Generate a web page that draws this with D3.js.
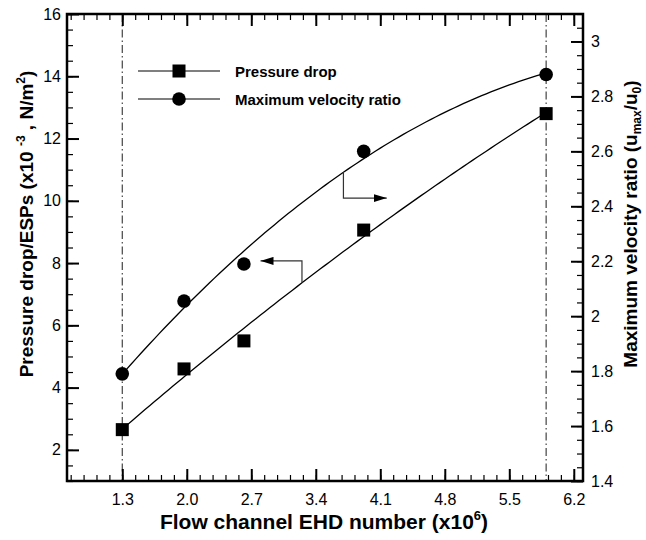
<!DOCTYPE html>
<html>
<head>
<meta charset="utf-8">
<script src="https://cdn.jsdelivr.net/npm/d3@7"></script>
<style>
  body { margin: 0; background: #fff; }
  text { font-family: "Liberation Sans", Arial, sans-serif; fill: #000; }
</style>
</head>
<body>
<div id="chart"></div>
<script>
// EHD number (x10^6) for each case
const ehdNumber = [1.3, 1.97, 2.62, 3.92, 5.9];
// pressure drop / ESPs (x10^-3 N/m2) -> left axis
const pressureDrop = [2.65, 4.6, 5.5, 9.06, 12.8];
// maximum velocity ratio -> right axis
const velocityRatio = [1.79, 2.055, 2.19, 2.6, 2.88];

const xTicks = [1.3, 2.0, 2.7, 3.4, 4.1, 4.8, 5.5, 6.2];
const leftTicks = [2, 4, 6, 8, 10, 12, 14, 16];
const rightTicks = [1.4, 1.6, 1.8, 2, 2.2, 2.4, 2.6, 2.8, 3];
const refLines = [1.3, 5.9];

const W = 646, H = 540;
const pLeft = 67, pRight = 583, pTop = 14, pBottom = 481;

const x = d3.scaleLinear().domain([0.7, 6.3]).range([pLeft, pRight]);
const yL = d3.scaleLinear().domain([1, 16]).range([pBottom, pTop]);
const yR = d3.scaleLinear().domain([1.4, 3.1]).range([pBottom, pTop]);

// least squares 2nd order fit, same as the trend curves in the figure
function quadFit(xs, ys) {
  let s = [0, 0, 0, 0, 0], t = [0, 0, 0];
  xs.forEach((xv, i) => {
    for (let k = 0; k < 5; k++) s[k] += Math.pow(xv, k);
    for (let k = 0; k < 3; k++) t[k] += ys[i] * Math.pow(xv, k);
  });
  const m = [[s[0], s[1], s[2]], [s[1], s[2], s[3]], [s[2], s[3], s[4]]];
  const det3 = a => a[0][0]*(a[1][1]*a[2][2]-a[1][2]*a[2][1])
    - a[0][1]*(a[1][0]*a[2][2]-a[1][2]*a[2][0])
    + a[0][2]*(a[1][0]*a[2][1]-a[1][1]*a[2][0]);
  const D = det3(m);
  const coef = [0, 1, 2].map(c => {
    const mc = m.map((row, r) => row.map((v, j) => j == c ? t[r] : v));
    return det3(mc) / D;
  });
  return xv => coef[0] + coef[1]*xv + coef[2]*xv*xv;
}

const fitP = quadFit(ehdNumber, pressureDrop);
const fitV = quadFit(ehdNumber, velocityRatio);

const svg = d3.select("#chart").append("svg")
  .attr("width", W).attr("height", H);

svg.append("rect").attr("width", W).attr("height", H).attr("fill", "#fff");

// dash-dot reference lines
svg.selectAll(".ref")
  .data(refLines)
  .join("line")
  .attr("class", "ref")
  .attr("x1", d => x(d)).attr("x2", d => x(d))
  .attr("y1", pTop).attr("y2", pBottom)
  .attr("stroke", "#444")
  .attr("stroke-width", 1.2)
  .attr("stroke-dasharray", "8,3,1.5,3");

// minor ticks
const xMinor = d3.range(-4, 37).map(j => +(1.3 + 0.14 * j).toFixed(2))
  .filter(v => v >= 0.7 && v <= 6.3);
const lMinor = d3.range(1, 16.01, 0.5);
const rMinor = d3.range(28, 63).map(j => +(j * 0.05).toFixed(2));

function addAxis(axis, tx, ty, cls) {
  const g = svg.append("g")
    .attr("class", cls)
    .attr("transform", `translate(${tx},${ty})`)
    .call(axis);
  g.select(".domain").remove();
  return g;
}

const majorW = 2, minorW = 1.2;

addAxis(d3.axisBottom(x).tickValues(xMinor).tickSize(-6).tickFormat(""), 0, pBottom, "minor");
addAxis(d3.axisTop(x).tickValues(xMinor).tickSize(-6).tickFormat(""), 0, pTop, "minor");
addAxis(d3.axisLeft(yL).tickValues(lMinor).tickSize(-6).tickFormat(""), pLeft, 0, "minor");
addAxis(d3.axisRight(yR).tickValues(rMinor).tickSize(-6).tickFormat(""), pRight, 0, "minor");
svg.selectAll(".minor line").attr("stroke-width", minorW);

addAxis(d3.axisBottom(x).tickValues(xTicks).tickSize(-12).tickPadding(13)
  .tickFormat(d3.format(".1f")), 0, pBottom, "major");
addAxis(d3.axisTop(x).tickValues(xTicks).tickSize(-12).tickFormat(""), 0, pTop, "major");
addAxis(d3.axisLeft(yL).tickValues(leftTicks).tickSize(-12).tickPadding(6), pLeft, 0, "major");
addAxis(d3.axisRight(yR).tickValues(rightTicks).tickSize(-12).tickPadding(8)
  .tickFormat(d => String(+d.toFixed(1))), pRight, 0, "major");
svg.selectAll(".major line").attr("stroke-width", majorW);
svg.selectAll(".major text, .minor text")
  .attr("font-size", 16)
  .attr("font-family", "'Liberation Sans', Arial, sans-serif")
  .attr("fill", "#000");

// frame
svg.append("rect")
  .attr("x", pLeft).attr("y", pTop)
  .attr("width", pRight - pLeft).attr("height", pBottom - pTop)
  .attr("fill", "none").attr("stroke", "#000").attr("stroke-width", 2.5);

// fitted curves
const xs = d3.range(ehdNumber[0], ehdNumber[ehdNumber.length - 1] + 0.001, 0.05);
const lineP = d3.line().x(d => x(d)).y(d => yL(fitP(d)));
const lineV = d3.line().x(d => x(d)).y(d => yR(fitV(d)));

svg.append("path").attr("d", lineP(xs))
  .attr("fill", "none").attr("stroke", "#000").attr("stroke-width", 1.3);
svg.append("path").attr("d", lineV(xs))
  .attr("fill", "none").attr("stroke", "#000").attr("stroke-width", 1.3);

// arrows pointing to the matching axis
const defs = svg.append("defs");
defs.append("marker")
  .attr("id", "head")
  .attr("viewBox", "0 0 13 8")
  .attr("refX", 13).attr("refY", 4)
  .attr("markerWidth", 13).attr("markerHeight", 8)
  .attr("markerUnits", "userSpaceOnUse")
  .attr("orient", "auto")
  .append("path").attr("d", "M0,0L13,4L0,8Z").attr("fill", "#000");

const arrowP = { x: 3.25, yTurn: 8.07, tip: 2.8 };
const arrowV = { x: 3.7, yTurn: 2.43, tip: 4.17 };

svg.append("path")
  .attr("d", `M${x(arrowP.x)},${yL(fitP(arrowP.x))}V${yL(arrowP.yTurn)}H${x(arrowP.tip)}`)
  .attr("fill", "none").attr("stroke", "#333").attr("stroke-width", 1.2)
  .attr("marker-end", "url(#head)");
svg.append("path")
  .attr("d", `M${x(arrowV.x)},${yR(fitV(arrowV.x))}V${yR(arrowV.yTurn)}H${x(arrowV.tip)}`)
  .attr("fill", "none").attr("stroke", "#333").attr("stroke-width", 1.2)
  .attr("marker-end", "url(#head)");

// markers
const sq = 13, rad = 6.8;
svg.selectAll(".sq")
  .data(ehdNumber.map((v, i) => [v, pressureDrop[i]]))
  .join("rect")
  .attr("class", "sq")
  .attr("x", d => x(d[0]) - sq / 2).attr("y", d => yL(d[1]) - sq / 2)
  .attr("width", sq).attr("height", sq)
  .attr("fill", "#000");
svg.selectAll(".dot")
  .data(ehdNumber.map((v, i) => [v, velocityRatio[i]]))
  .join("circle")
  .attr("class", "dot")
  .attr("cx", d => x(d[0])).attr("cy", d => yR(d[1]))
  .attr("r", rad)
  .attr("fill", "#000");

// legend
const legendItems = ["Pressure drop", "Maximum velocity ratio"];
const lg = svg.append("g").attr("transform", "translate(138,71)");
legendItems.forEach((name, i) => {
  const g = lg.append("g").attr("transform", `translate(0,${i * 28})`);
  g.append("line").attr("x1", 0).attr("x2", 82).attr("stroke", "#000").attr("stroke-width", 1.2);
  if (i == 0) {
    g.append("rect").attr("x", 41 - sq / 2).attr("y", -sq / 2).attr("width", sq).attr("height", sq);
  } else {
    g.append("circle").attr("cx", 41).attr("r", rad);
  }
  g.append("text").attr("x", 97).attr("y", 5.5)
    .attr("font-size", 15).attr("font-weight", "bold").text(name);
});

// axis titles
const xt = svg.append("text")
  .attr("x", 324).attr("y", 529)
  .attr("text-anchor", "middle")
  .attr("font-size", 21).attr("font-weight", "bold");
xt.append("tspan").text("Flow channel EHD number (x10");
xt.append("tspan").attr("font-size", 13).attr("dy", -9).text("6");
xt.append("tspan").attr("dy", 9).text(")");

const ylt = svg.append("text")
  .attr("transform", "translate(33,224) rotate(-90)")
  .attr("text-anchor", "middle")
  .attr("font-size", 19).attr("font-weight", "bold");
ylt.append("tspan").text("Pressure drop/ESPs (x10 ");
ylt.append("tspan").attr("font-size", 12).attr("dy", -8).text("-3");
ylt.append("tspan").attr("dy", 8).text(" , N/m");
ylt.append("tspan").attr("font-size", 12).attr("dy", -8).text("2");
ylt.append("tspan").attr("dy", 8).text(")");

const yrt = svg.append("text")
  .attr("transform", "translate(637,224) rotate(-90)")
  .attr("text-anchor", "middle")
  .attr("font-size", 19).attr("font-weight", "bold");
yrt.append("tspan").text("Maximum velocity ratio (u");
yrt.append("tspan").attr("font-size", 12).attr("dy", 4).text("max");
yrt.append("tspan").attr("dy", -4).text("/u");
yrt.append("tspan").attr("font-size", 12).attr("dy", 4).text("0");
yrt.append("tspan").attr("dy", -4).text(")");
</script>
</body>
</html>
